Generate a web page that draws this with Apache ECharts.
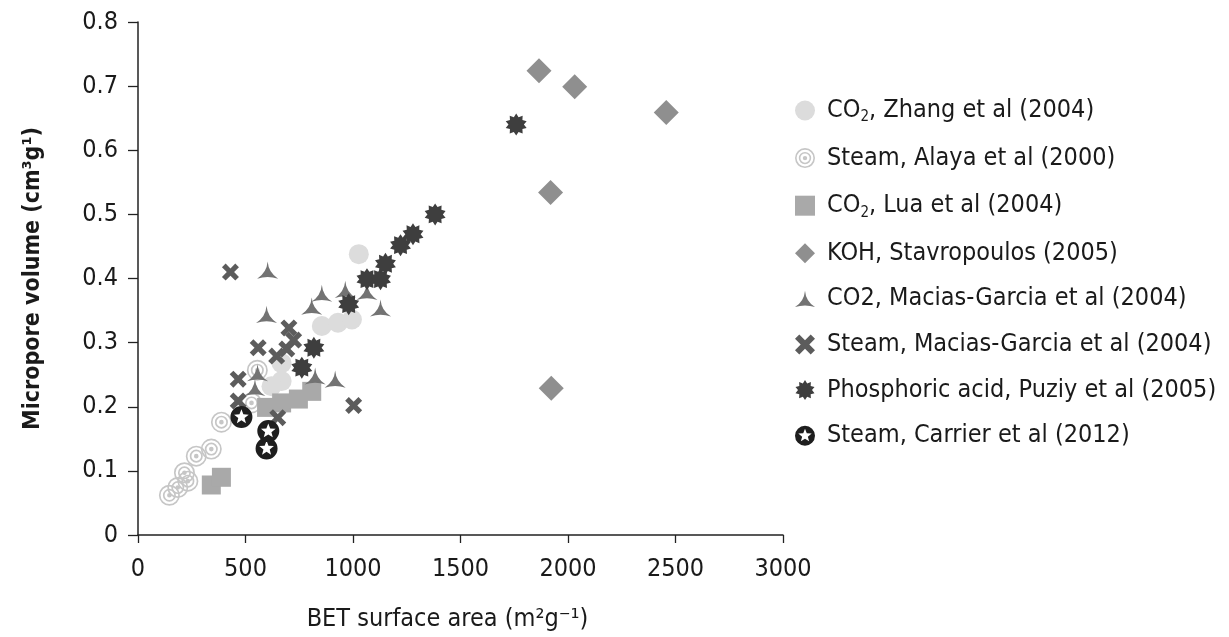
<!DOCTYPE html>
<html>
<head>
<meta charset="utf-8">
<script src="https://cdn.jsdelivr.net/npm/echarts@6/dist/echarts.min.js"></script>
<style>
  html, body { margin: 0; padding: 0; background: #fff; }
  #chart { width: 1229px; height: 637px; }
</style>
</head>
<body>
<div id="chart"></div>
<script>
// series data: [BET surface area, micropore volume]
const zhangCO2 = [[1027, 0.438], [855, 0.326], [930, 0.331], [995, 0.336], [668, 0.240], [621, 0.232], [668, 0.268]];
const alayaSteam = [[146, 0.062], [185, 0.074], [232, 0.084], [216, 0.097], [271, 0.123], [341, 0.134], [388, 0.176], [528, 0.206], [555, 0.257]];
const luaCO2 = [[341, 0.078], [388, 0.090], [598, 0.199], [668, 0.206], [746, 0.212], [808, 0.224]];
const stavKOH = [[1865, 0.724], [2031, 0.699], [2457, 0.659], [1919, 0.534], [1922, 0.229]];
const maciasCO2 = [[603, 0.413], [598, 0.344], [544, 0.230], [556, 0.253], [808, 0.357], [855, 0.377], [964, 0.383], [1065, 0.380], [1128, 0.354], [824, 0.248], [917, 0.243]];
const maciasSteam = [[430, 0.410], [466, 0.243], [466, 0.209], [559, 0.292], [645, 0.279], [692, 0.290], [702, 0.323], [724, 0.304], [650, 0.183], [1003, 0.202]];
const puziyH3PO4 = [[762, 0.261], [818, 0.292], [980, 0.360], [1065, 0.399], [1128, 0.399], [1151, 0.423], [1221, 0.452], [1279, 0.469], [1382, 0.500], [1759, 0.640]];
const carrierSteam = [[481, 0.184], [606, 0.162], [598, 0.135]];

const seriesNames = [
  "CO2, Zhang et al (2004)",
  "Steam, Alaya et al (2000)",
  "CO2, Lua et al (2004)",
  "KOH, Stavropoulos (2005)",
  "CO2, Macias-Garcia et al (2004)",
  "Steam, Macias-Garcia et al (2004)",
  "Phosphoric acid, Puziy et al (2005)",
  "Steam, Carrier et al (2012)"
];
const xTicks = [0, 500, 1000, 1500, 2000, 2500, 3000];
const yTicks = [0, 0.1, 0.2, 0.3, 0.4, 0.5, 0.6, 0.7, 0.8];

const FONT = "'DejaVu Sans Condensed', 'Liberation Sans Narrow', sans-serif";

// symbol shapes
function circ(r, cw) {
  const s = cw ? 1 : 0;
  return `M${r},0 A${r},${r} 0 1,${s} ${-r},0 A${r},${r} 0 1,${s} ${r},0 Z `;
}
function poly(pts, reverse) {
  if (reverse) pts = pts.slice().reverse();
  return 'M' + pts.map(p => p[0].toFixed(2) + ',' + p[1].toFixed(2)).join(' L') + ' Z ';
}
function starPts(n, ro, ri) {
  const pts = [];
  for (let i = 0; i < n * 2; i++) {
    const a = -Math.PI / 2 + i * Math.PI / n;
    const r = i % 2 ? ri : ro;
    pts.push([r * Math.cos(a), r * Math.sin(a)]);
  }
  return pts;
}
const ringSym = 'path://' + circ(10, true) + circ(8.4, false) + circ(6.2, true) + circ(4.6, false) + circ(2.2, true);
const carrierSym = 'path://' + circ(10, true) + poly(starPts(5, 7, 3), true);
const burstSym = 'path://' + poly(starPts(10, 10, 7), false);
const triSym = 'path://M0,-10 Q0.8,0 9.5,5.5 Q0,2.4 -9.5,5.5 Q-0.8,0 0,-10 Z';
const crossSym = (function () {
  const w = 2.2, l = 8;
  const plus = [[w, w], [l, w], [l, -w], [w, -w], [w, -l], [-w, -l], [-w, -w], [-l, -w], [-l, w], [-w, w], [-w, l], [w, l]];
  const c = Math.SQRT1_2;
  return 'path://' + poly(plus.map(p => [(p[0] - p[1]) * c, (p[0] + p[1]) * c]), false);
})();

const seriesData = [zhangCO2, alayaSteam, luaCO2, stavKOH, maciasCO2, maciasSteam, puziyH3PO4, carrierSteam];
const symbols = ['circle', ringSym, 'rect', 'diamond', triSym, crossSym, burstSym, carrierSym];
const sizes = [20, 21, 19, 25, 21, 17, 22, 22];
const colors = ['#dcdcdc', '#c6c6c6', '#a9a9a9', '#8f8f8f', '#737373', '#5c5c5c', '#3e3e3e', '#1e1e1e'];

const chart = echarts.init(document.getElementById('chart'));
chart.setOption({
  animation: false,
  backgroundColor: '#fff',
  grid: { left: 138, top: 22, right: 446, bottom: 101, containLabel: false },
  xAxis: {
    type: 'value',
    min: xTicks[0],
    max: xTicks[xTicks.length - 1],
    interval: 500,
    name: 'BET surface area (m²g⁻¹)',
    nameLocation: 'middle',
    nameGap: 72,
    nameTextStyle: { fontFamily: FONT, fontSize: 25, color: '#1a1a1a', padding: [0, 26, 0, 0] },
    axisLine: { lineStyle: { color: '#222', width: 1.5 } },
    axisTick: { show: true, length: 8, inside: false, lineStyle: { color: '#222', width: 1.3 } },
    axisLabel: { fontFamily: FONT, fontSize: 25, color: '#1a1a1a', margin: 22, formatter: v => String(v) },
    splitLine: { show: false }
  },
  yAxis: {
    type: 'value',
    min: yTicks[0],
    max: yTicks[yTicks.length - 1],
    interval: 0.1,
    name: 'Micropore volume (cm³g¹)',
    nameLocation: 'middle',
    nameGap: 93,
    nameRotate: 90,
    nameTextStyle: { fontFamily: FONT, fontSize: 23, fontWeight: 'bold', color: '#1a1a1a' },
    axisLine: { show: true, lineStyle: { color: '#222', width: 1.5 } },
    axisTick: { show: true, length: 10, lineStyle: { color: '#222', width: 1.3 } },
    axisLabel: { fontFamily: FONT, fontSize: 25, color: '#1a1a1a', margin: 20 },
    splitLine: { show: false }
  },
  legend: {
    orient: 'vertical',
    left: 790,
    top: 91,
    itemWidth: 20,
    itemHeight: 20,
    itemGap: 20.6,
    data: seriesNames,
    formatter: function (name) {
      if (name.indexOf('CO2, Zhang') === 0 || name.indexOf('CO2, Lua') === 0) {
        return '{f|CO}{s|2}{t|' + name.slice(3) + '}';
      }
      return '{f|' + name + '}';
    },
    textStyle: {
      color: '#1a1a1a',
      rich: {
        f: { fontFamily: FONT, fontSize: 25, color: '#1a1a1a', lineHeight: 26, padding: [0, 0, 0, 7] },
        t: { fontFamily: FONT, fontSize: 25, color: '#1a1a1a', lineHeight: 26 },
        s: { fontFamily: FONT, fontSize: 15, color: '#1a1a1a', padding: [14, 0, 0, 0], lineHeight: 26 }
      }
    }
  },
  series: seriesNames.map((name, i) => ({
    name: name,
    type: 'scatter',
    data: seriesData[i],
    symbol: symbols[i],
    symbolSize: sizes[i],
    symbolKeepAspect: true,
    itemStyle: { color: colors[i], opacity: 1 },
    z: 2 + i
  }))
});
</script>
</body>
</html>
